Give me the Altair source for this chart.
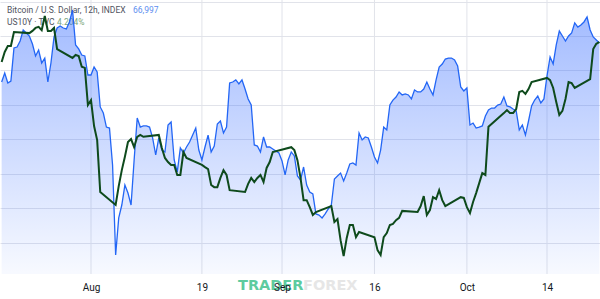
import altair as alt
import pandas as pd

# ---- data ----
START = "2024-07-17 12:00"   # first 12h bar
FREQ = "12h"

BTC = [
    64160, 64810, 64090, 64230, 66630, 66700, 67140, 67940, 67720, 67500,
    66920, 66050, 66480, 65540, 65900, 64160, 65540, 67430, 68080, 68230,
    68080, 68010, 68520, 69390, 66850, 66560, 66120, 66050, 64670, 64670,
    65250, 64890, 62350, 61910, 60890, 60820, 58130, 51600, 54290, 55230,
    56680, 56100, 55230, 58500, 61550, 60890, 60970, 60970, 60890, 60100,
    58860, 60100, 59220, 59080, 61040, 61260, 58500, 57630, 59370, 59010,
    59440, 59800, 60310, 60820, 59220, 58500, 59440, 60310, 59080, 59510,
    61110, 61330, 60460, 60890, 64090, 64160, 64310, 64020, 64310, 63650,
    62930, 62490, 59590, 59510, 59080, 60170, 59440, 59440, 59300, 59150,
    59010, 58430, 57410, 58500, 59080, 58790, 57340, 57050, 57990, 56680,
    56170, 56030, 54580, 54500, 54290, 54580, 54940, 55230, 57120, 57340,
    57550, 56970, 57550, 58210, 58280, 58130, 60460, 59950, 60170, 60100,
    59440, 58720, 58280, 59220, 60890, 60680, 62490, 62850, 63070, 63440,
    63220, 63290, 63220, 62930, 63580, 63440, 63440, 63650, 64160, 63650,
    63220, 64310, 65250, 65470, 65830, 65900, 65900, 65760, 65320, 63800,
    63510, 63730, 61040, 61180, 60820, 60890, 60970, 61690, 62130, 62270,
    62270, 62490, 62560, 63070, 62420, 62350, 62200, 62060, 60680, 61040,
    60310, 61330, 62420, 62850, 63140, 62640, 62930, 64600, 65980, 65470,
    66850, 67860, 67500, 67140, 67500, 67720, 68450, 68150, 68300, 68520,
    68880, 67940, 67430, 67210, 66997,
]

N = None
US10Y = [
    4.150, 4.177, 4.193, 4.193, 4.231, N, N, N, N, 4.228,
    4.234, 4.242, 4.245, 4.236, 4.274, 4.234, 4.234, 4.242, 4.185, N,
    N, N, N, 4.161, 4.169, 4.166, 4.137, 4.134, 4.034, 4.047,
    3.977, 3.939, 3.799, N, N, N, N, 3.764, 3.815, 3.858,
    3.894, 3.934, 3.942, 3.920, 3.948, 3.953, 3.948, N, N, N,
    N, 3.953, 3.918, 3.891, 3.880, 3.872, 3.872, 3.845, 3.845, 3.907,
    3.891, N, N, N, N, 3.872, 3.866, 3.861, 3.818, 3.812,
    3.812, 3.837, 3.858, 3.845, 3.804, N, N, N, N, 3.799,
    3.821, 3.837, 3.826, 3.837, 3.845, 3.826, 3.864, 3.880, 3.907, N,
    N, N, N, N, 3.920, 3.912, 3.885, 3.837, 3.777, 3.777,
    3.758, 3.737, 3.745, N, N, N, N, 3.761, 3.718, 3.726,
    3.669, 3.626, 3.675, 3.710, 3.710, 3.677, 3.691, N, N, N,
    N, 3.677, 3.642, 3.629, 3.677, 3.688, 3.710, 3.713, 3.723, 3.729,
    3.748, N, N, N, N, 3.745, 3.761, 3.788, 3.737, 3.750,
    3.785, 3.780, 3.804, 3.777, 3.761, N, N, N, N, 3.785,
    3.783, 3.758, 3.742, 3.772, 3.796, 3.823, 3.850, 3.845, 3.975, N,
    N, N, N, 4.012, 4.020, 4.012, 4.012, 4.023, 4.069, 4.072,
    4.064, 4.077, 4.096, N, N, N, N, 4.107, 4.101, 4.080,
    4.042, 4.007, 4.018, 4.050, 4.096, 4.093, 4.080, N, N, N,
    N, 4.104, 4.185, 4.199, 4.204,
]

TICK_DATES = ["2024-08-01", "2024-08-19", "2024-09-01", "2024-09-16", "2024-10-01", "2024-10-14"]
BTC_GRID = [52500, 55000, 57500, 60000, 62500, 65000, 67500, 70000]
BTC_DOMAIN = [50220, 70115]
US10Y_DOMAIN = [3.5776, 4.3174]
X_DOMAIN = ["2024-07-17 05:36", "2024-10-22 14:24"]

LEGEND1 = ["Bitcoin / U.S. Dollar, 12h, INDEX"]
LEGEND1_VAL = ["66,997"]
LEGEND2 = ["US10Y · TVC"]
LEGEND2_VAL = ["4.204%"]
MARK1 = ["TRADER"]
MARK2 = ["FOREX"]

# ---- frames ----
times = pd.date_range(START, periods=len(BTC), freq=FREQ)
btc_df = pd.DataFrame({"t": times, "btc": BTC})
us_df = pd.DataFrame({"t": times, "us": US10Y}).dropna()
tick_df = pd.DataFrame({"d": pd.to_datetime(TICK_DATES)})


def dt(s):
    ts = pd.Timestamp(s)
    return alt.DateTime(year=ts.year, month=ts.month, date=ts.day,
                        hours=ts.hour, minutes=ts.minute)


GRID = "#E1E3EA"
x_scale = alt.Scale(domain=[dt(s) for s in X_DOMAIN], nice=False)
x_axis = alt.Axis(
    values=[dt(s) for s in TICK_DATES],
    labelExpr="date(datum.value) == 1 ? timeFormat(datum.value, '%b') : timeFormat(datum.value, '%d')",
    title=None, ticks=False, domain=False, grid=False, zindex=2,
    labelFont="Roboto", labelFontSize=10, labelColor="#131722",
    labelPadding=8, labelFlush=False,
)

vgrid = alt.Chart(tick_df).mark_rule(color=GRID, strokeWidth=1).encode(
    x=alt.X("d:T", scale=x_scale, axis=x_axis),
)

GRAD = alt.Gradient(
    gradient="linear",
    stops=[
        alt.GradientStop(color="rgba(41,98,255,0.05)", offset=0),
        alt.GradientStop(color="rgba(41,98,255,0.62)", offset=1),
    ],
    x1=1, x2=1, y1=1, y2=0,
)

area = alt.Chart(btc_df).mark_area(
    color=GRAD, clip=True,
    line={"color": "#2366F5", "strokeWidth": 1.3},
).encode(
    x=alt.X("t:T", scale=x_scale),
    y=alt.Y("btc:Q", scale=alt.Scale(domain=BTC_DOMAIN, nice=False, zero=False),
            axis=alt.Axis(values=BTC_GRID, labels=False, ticks=False, domain=False,
                          title=None, grid=True, gridColor=GRID, gridWidth=1)),
    y2=alt.datum(BTC_DOMAIN[0]),
)

us_line = alt.Chart(us_df).mark_line(
    color="#0E4A1C", strokeWidth=2, clip=True,
).encode(
    x=alt.X("t:T", scale=x_scale),
    y=alt.Y("us:Q", scale=alt.Scale(domain=US10Y_DOMAIN, nice=False, zero=False), axis=None),
)


def label(texts, x, y, color, size=8.5, weight="normal", font="Roboto"):
    return alt.Chart(pd.DataFrame({"s": texts})).mark_text(
        align="left", baseline="middle", font=font, fontSize=size,
        fontWeight=weight, color=color,
    ).encode(x=alt.value(x), y=alt.value(y), text="s:N")


legend = (
    label(LEGEND1, 7, 10, "#50535E")
    + label(LEGEND1_VAL, 133, 10, "#5E8FF0")
    + label(LEGEND2, 7, 21.5, "#50535E")
    + label(LEGEND2_VAL, 57, 21.5, "#7BA57B")
)
watermark = (
    label(MARK1, 238, 286, "#5DCB9F", size=14.5, weight="bold", font="DejaVu Sans")
    + label(MARK2, 303, 286, "#E6E6E6", size=14.5, weight="bold", font="DejaVu Sans")
)

chart = alt.layer(vgrid, legend, watermark, area, us_line).resolve_scale(
    y="independent"
).properties(
    width=600, height=274,
    autosize=alt.AutoSizeParams(type="none"),
    padding={"left": 0, "top": 0, "right": 0, "bottom": 25},
    background="white",
).configure_view(stroke=None)

chart.save("out.html", embed_options={"renderer": "svg", "actions": False})
